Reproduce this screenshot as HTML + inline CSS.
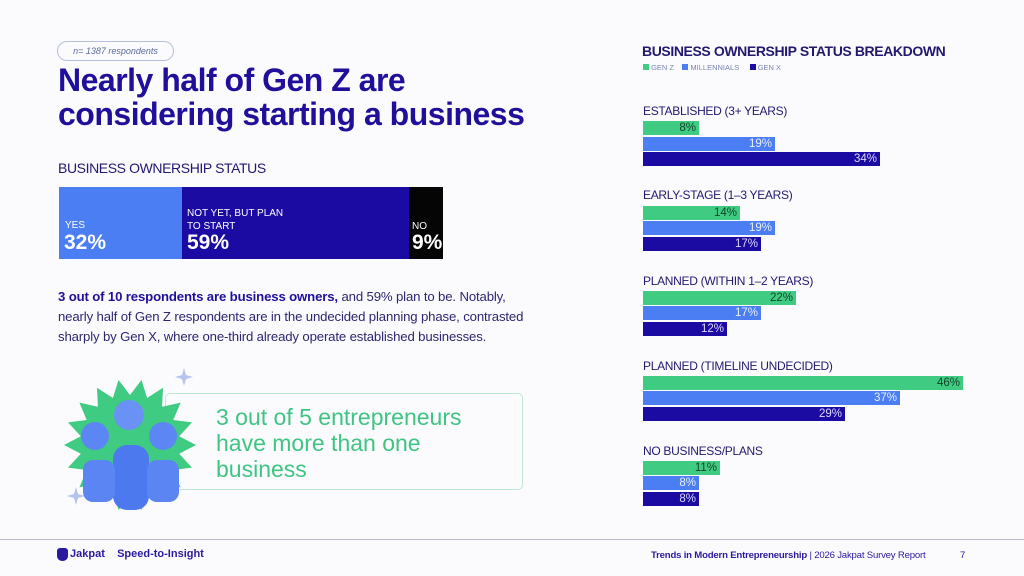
<!DOCTYPE html>
<html><head><meta charset="utf-8"><style>
*{margin:0;padding:0;box-sizing:border-box}
body{width:1024px;height:576px;background:#fbfbfe;position:relative;overflow:hidden;font-family:"Liberation Sans",sans-serif}
.a{position:absolute}
.lbl{position:absolute;left:643px;font-size:12px;color:#22186e;letter-spacing:-0.3px;white-space:nowrap}
.bar{position:absolute;left:643px;height:14px;font-size:11.5px;text-align:right;padding-right:3px;line-height:14px}
.g{background:#3fcb81;color:#14432a}
.b{background:#4b7ef2;color:#e8eeff}
.n{background:#1c0ba3;color:#dcd8ff}
</style></head><body>
<div class="a" style="left:57px;top:41px;width:117px;height:20px;border:1px solid #b7bfdc;border-radius:10px;font-size:9px;font-style:italic;color:#5a6a9a;line-height:18px;text-align:center">n= 1387 respondents</div>
<div class="a" style="left:58px;top:63px;font-size:32px;font-weight:bold;color:#1f0f9b;line-height:34px;letter-spacing:-0.5px">Nearly half of Gen Z are<br>considering starting a business</div>
<div class="a" style="left:58px;top:160px;font-size:14px;color:#22186e;letter-spacing:-0.4px">BUSINESS OWNERSHIP STATUS</div>
<div class="a" style="left:59px;top:187px;width:123px;height:72px;background:#4b7ef2;color:#fff">
 <div class="a" style="left:6px;top:33px;font-size:10px">YES</div><div class="a" style="left:5px;top:44px;font-size:21px;font-weight:bold">32%</div></div>
<div class="a" style="left:182px;top:187px;width:227px;height:72px;background:#1c0ba3;color:#fff">
 <div class="a" style="left:5px;top:20px;font-size:10px;line-height:13px">NOT YET, BUT PLAN<br>TO START</div><div class="a" style="left:5px;top:44px;font-size:21px;font-weight:bold">59%</div></div>
<div class="a" style="left:409px;top:187px;width:34px;height:72px;background:#050505;color:#fff;overflow:hidden">
 <div class="a" style="left:3px;top:34px;font-size:10px">NO</div><div class="a" style="left:3px;top:44px;font-size:21px;font-weight:bold">9%</div></div>
<div class="a" style="left:58px;top:287px;width:490px;font-size:13.2px;line-height:20px;color:#2c2670;letter-spacing:-0.15px"><b style="color:#1f0f9b">3 out of 10 respondents are business owners,</b> and 59% plan to be. Notably,<br>nearly half of Gen Z respondents are in the undecided planning phase, contrasted<br>sharply by Gen X, where one-third already operate established businesses.</div>
<div class="a" style="left:165px;top:393px;width:358px;height:97px;border:1.5px solid #bfe8d2;border-radius:5px"></div>
<svg class="a" style="left:55px;top:360px" width="150" height="150" viewBox="0 0 150 150">
<polygon fill="#3fcb81" points="" id="st"/>
<path d="M129 8l2 7 7 2-7 2-2 7-2-7-7-2 7-2z" fill="#b5c3ee"/>
<path d="M21 127l2 7 7 2-7 2-2 7-2-7-7-2 7-2z" fill="#b5c3ee"/>
<rect x="58" y="85" width="36" height="65" rx="14" fill="#4d79ef"/>
<rect x="28" y="100" width="32" height="42" rx="10" fill="#5a85f2"/>
<rect x="92" y="100" width="32" height="42" rx="10" fill="#5a85f2"/>
<circle cx="40" cy="76" r="14" fill="#5b86f3"/><circle cx="108" cy="76" r="14" fill="#5b86f3"/><circle cx="74" cy="55" r="15" fill="#6a92f6"/>
</svg>
<script>(function(){var p=[],cx=75,cy=85,n=18;for(var i=0;i<2*n;i++){var r=i%2?50:66,a=Math.PI*i/n;p.push((cx+r*Math.cos(a)).toFixed(1)+","+(cy+r*Math.sin(a)).toFixed(1));}document.getElementById("st").setAttribute("points",p.join(" "));})();</script>
<div class="a" style="left:216px;top:404px;font-size:23px;line-height:26px;color:#3fc482">3 out of 5 entrepreneurs<br>have more than one<br>business</div>

<div class="a" style="left:642px;top:43px;font-size:14px;font-weight:bold;color:#22186e;letter-spacing:-0.4px">BUSINESS OWNERSHIP STATUS BREAKDOWN</div>
<div class="a" style="left:643px;top:63px;font-size:7.5px;color:#7a84b0;white-space:nowrap">
<span style="display:inline-block;width:6px;height:6px;background:#3fcb81"></span> GEN Z &nbsp;&nbsp;&nbsp;<span style="display:inline-block;width:6px;height:6px;background:#4b7ef2"></span> MILLENNIALS &nbsp;&nbsp;&nbsp;&nbsp;<span style="display:inline-block;width:6px;height:6px;background:#1c0ba3"></span> GEN X</div>

<div class="lbl" style="top:104px">ESTABLISHED (3+ YEARS)</div>
<div class="bar g" style="top:121px;width:56px">8%</div>
<div class="bar b" style="top:137px;width:132px">19%</div>
<div class="bar n" style="top:152px;width:237px">34%</div>

<div class="lbl" style="top:188px">EARLY-STAGE (1–3 YEARS)</div>
<div class="bar g" style="top:206px;width:97px">14%</div>
<div class="bar b" style="top:221px;width:132px">19%</div>
<div class="bar n" style="top:237px;width:118px">17%</div>

<div class="lbl" style="top:274px">PLANNED (WITHIN 1–2 YEARS)</div>
<div class="bar g" style="top:291px;width:153px">22%</div>
<div class="bar b" style="top:306px;width:118px">17%</div>
<div class="bar n" style="top:322px;width:84px">12%</div>

<div class="lbl" style="top:359px">PLANNED (TIMELINE UNDECIDED)</div>
<div class="bar g" style="top:376px;width:320px">46%</div>
<div class="bar b" style="top:391px;width:257px">37%</div>
<div class="bar n" style="top:407px;width:202px">29%</div>

<div class="lbl" style="top:444px">NO BUSINESS/PLANS</div>
<div class="bar g" style="top:461px;width:77px">11%</div>
<div class="bar b" style="top:476px;width:56px">8%</div>
<div class="bar n" style="top:492px;width:56px">8%</div>

<div class="a" style="left:0;top:539px;width:1024px;height:1px;background:#b8b8c8"></div>
<div class="a" style="left:57px;top:548px;width:11px;height:13px;background:#2a1a9e;border-radius:3px 3px 5px 5px"></div>
<div class="a" style="left:70px;top:548px;font-size:11px;font-weight:bold;color:#2a1a9e">Jakpat &nbsp;&nbsp; Speed-to-Insight</div>
<div class="a" style="left:651px;top:550px;font-size:9.6px;color:#2a1a9e;white-space:nowrap;letter-spacing:-0.2px"><b>Trends in Modern Entrepreneurship</b> | 2026 Jakpat Survey Report</div>
<div class="a" style="left:960px;top:550px;font-size:9.6px;color:#2a1a9e">7</div>
</body></html>
